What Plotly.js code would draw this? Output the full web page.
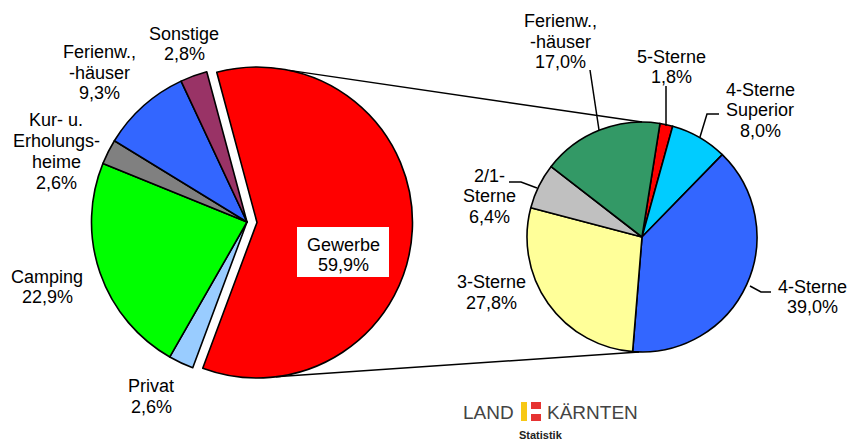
<!DOCTYPE html>
<html>
<head>
<meta charset="utf-8">
<script src="https://cdn.plot.ly/plotly-3.0.1.min.js"></script>
<style>
html,body{margin:0;padding:0;background:#ffffff;}
#chart{width:848px;height:441px;}
</style>
</head>
<body>
<div id="chart"></div>
<script>
// ---- DATA ----
const leftLabels = ['Gewerbe', 'Privat', 'Camping', 'Kur- u. Erholungsheime', 'Ferienw., -häuser', 'Sonstige'];
const leftValues = [59.9, 2.6, 22.9, 2.6, 9.3, 2.8];
const leftLabelLines = [['Gewerbe'], ['Privat'], ['Camping'], ['Kur- u.', 'Erholungs-', 'heime'], ['Ferienw.,', '-häuser'], ['Sonstige']];
const leftColors = ['#FF0000', '#99CCFF', '#00FF00', '#808080', '#3366FF', '#993366'];

const rightLabels = ['5-Sterne', '4-Sterne Superior', '4-Sterne', '3-Sterne', '2/1-Sterne', 'Ferienw., -häuser'];
const rightValues = [1.8, 8.0, 39.0, 27.8, 6.4, 17.0];
const rightLabelLines = [['5-Sterne'], ['4-Sterne', 'Superior'], ['4-Sterne'], ['3-Sterne'], ['2/1-', 'Sterne'], ['Ferienw.,', '-häuser']];
const rightColors = ['#FF0000', '#00CCFF', '#3366FF', '#FFFF99', '#C0C0C0', '#339966'];

// ---- LAYOUT HELPERS ----
const W = 848, H = 441;
const FONT = 'Liberation Sans, Arial, sans-serif';
function px(x) { return x / W; }
function py(y) { return 1 - y / H; }
function fmt(v) { return v.toFixed(1).replace('.', ',') + '%'; }

const L = {cx: 247, cy: 222, r: 155.5, pullPx: 10, rotation: -15};
const R = {cx: 642, cy: 237, r: 115, rotation: 9};
const pullFrac = L.pullPx / L.r;
const halfL = L.r * (1 + pullFrac);

// label placement: [centre x, first baseline y, line step]
const leftLabelPos = [[343, 251, 20], [151, 392, 21], [47, 283, 19.5], [56, 126, 21], [99, 58, 20.5], [184, 40, 20]];
const rightLabelPos = [[671, 63, 20], [760, 96, 20.5], [812, 293, 20], [491, 288, 21], [489, 182, 20.5], [560, 27, 20.5]];

const traces = [
  {
    type: 'pie', labels: leftLabels, values: leftValues, sort: false, direction: 'clockwise',
    rotation: L.rotation,
    pull: leftLabels.map((l, i) => i === 0 ? pullFrac : 0),
    marker: {colors: leftColors, line: {color: '#000000', width: 1.6}},
    textinfo: 'none', hoverinfo: 'label+value', showlegend: false,
    domain: {x: [px(L.cx - halfL), px(L.cx + halfL)], y: [py(L.cy + halfL), py(L.cy - halfL)]}
  },
  {
    type: 'pie', labels: rightLabels, values: rightValues, sort: false, direction: 'clockwise',
    rotation: R.rotation,
    marker: {colors: rightColors, line: {color: '#000000', width: 1.6}},
    textinfo: 'none', hoverinfo: 'label+value', showlegend: false,
    domain: {x: [px(R.cx - R.r), px(R.cx + R.r)], y: [py(R.cy + R.r), py(R.cy - R.r)]}
  }
];

const annotations = [];
function addLines(lines, pos) {
  lines.forEach((t, k) => {
    const base = pos[1] + k * pos[2];
    annotations.push({
      x: px(pos[0]), y: py(base - 6), xref: 'paper', yref: 'paper', text: t, showarrow: false,
      xanchor: 'center', yanchor: 'middle', font: {family: FONT, size: 18, color: '#000000'}
    });
  });
}
leftLabelLines.forEach((lines, i) => addLines(lines.concat([fmt(leftValues[i])]), leftLabelPos[i]));
rightLabelLines.forEach((lines, i) => addLines(lines.concat([fmt(rightValues[i])]), rightLabelPos[i]));

// logo text
annotations.push({x: px(488), y: py(412), xref: 'paper', yref: 'paper', text: 'LAND', showarrow: false,
  xanchor: 'center', yanchor: 'middle', font: {family: FONT, size: 19, color: '#444444'}});
annotations.push({x: px(592), y: py(412), xref: 'paper', yref: 'paper', text: 'KÄRNTEN', showarrow: false,
  xanchor: 'center', yanchor: 'middle', font: {family: FONT, size: 19, color: '#444444'}});
annotations.push({x: px(541), y: py(435), xref: 'paper', yref: 'paper', text: '<b>Statistik</b>', showarrow: false,
  xanchor: 'center', yanchor: 'middle', font: {family: FONT, size: 11, color: '#222222'}});

// connectors from the pulled slice to the second pie
const total = leftValues.reduce((a, b) => a + b, 0);
const midA = (L.rotation + leftValues[0] / total * 180) * Math.PI / 180;
const gx = L.cx + L.pullPx * Math.sin(midA), gy = L.cy - L.pullPx * Math.cos(midA);
function onG(deg) { const a = deg * Math.PI / 180; return [gx + L.r * Math.sin(a), gy - L.r * Math.cos(a)]; }
const tTop = onG(12), tBot = onG(173);

function path(pts) { return pts.map((p, i) => (i ? 'L' : 'M') + px(p[0]) + ',' + py(p[1])).join(' '); }
const lineStyle = {color: '#000000', width: 1.5};
const shapes = [
  {type: 'rect', xref: 'paper', yref: 'paper', x0: px(297), x1: px(389), y0: py(277), y1: py(227), fillcolor: '#ffffff', line: {width: 0}},
  {type: 'path', xref: 'paper', yref: 'paper', path: path([tTop, [R.cx, R.cy - R.r]]), line: lineStyle},
  {type: 'path', xref: 'paper', yref: 'paper', path: path([tBot, [R.cx - 3, R.cy + R.r]]), line: lineStyle},
  // leader lines on the right pie
  {type: 'path', xref: 'paper', yref: 'paper', path: path([[590, 70], [599, 130]]), line: lineStyle},
  {type: 'path', xref: 'paper', yref: 'paper', path: path([[666, 86], [666, 126]]), line: lineStyle},
  {type: 'path', xref: 'paper', yref: 'paper', path: path([[719, 114], [707, 114], [700, 137]]), line: lineStyle},
  {type: 'path', xref: 'paper', yref: 'paper', path: path([[509, 182], [521, 182], [537, 188]]), line: lineStyle},
  {type: 'path', xref: 'paper', yref: 'paper', path: path([[771, 292], [761, 292], [750, 286]]), line: lineStyle},
  // logo flag
  {type: 'rect', xref: 'paper', yref: 'paper', x0: px(521), x1: px(527), y0: py(421), y1: py(402), fillcolor: '#F7C815', line: {width: 0}},
  {type: 'rect', xref: 'paper', yref: 'paper', x0: px(531), x1: px(541), y0: py(409), y1: py(402), fillcolor: '#E63332', line: {width: 0}},
  {type: 'rect', xref: 'paper', yref: 'paper', x0: px(531), x1: px(541), y0: py(421), y1: py(414), fillcolor: '#E63332', line: {width: 0}}
];

const layout = {
  width: W, height: H,
  margin: {l: 0, r: 0, t: 0, b: 0},
  paper_bgcolor: '#ffffff', plot_bgcolor: '#ffffff',
  showlegend: false,
  annotations: annotations,
  shapes: shapes,
  font: {family: FONT}
};

Plotly.newPlot('chart', traces, layout, {displayModeBar: false, staticPlot: true});
</script>
</body>
</html>
